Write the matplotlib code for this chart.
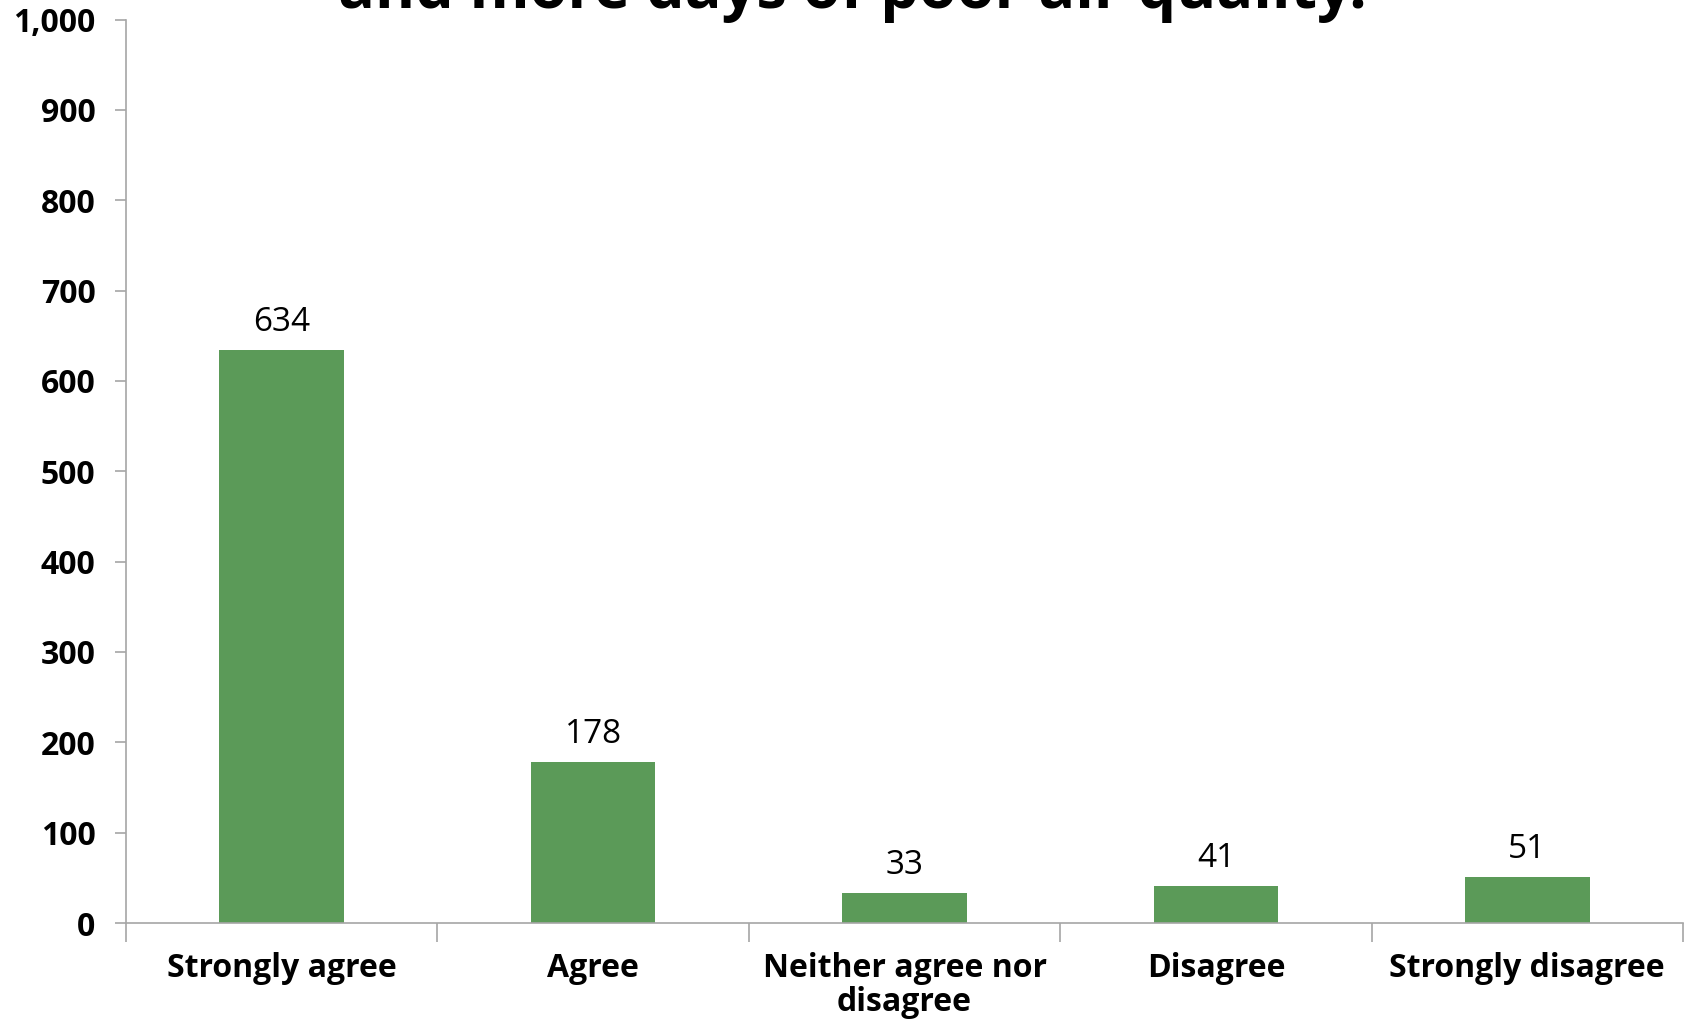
import matplotlib.pyplot as plt


CATEGORIES: list[str] = [
    "Strongly agree",
    "Agree",
    "Neither agree nor\ndisagree",
    "Disagree",
    "Strongly disagree"
]

COUNTS: list[int] = [
    634,
    178,
    33,
    41,
    51
]

TITLE = "and more days of poor air quality."
BAR_COLOR = "#5B9A58"
AXIS_COLOR = "#A6A6A6"


def main() -> None:
    plt.rcParams["font.family"] = ["Open Sans", "DejaVu Sans"]

    fig = plt.figure(figsize=(16.92, 10.19), dpi=100)
    ax = fig.add_axes([126 / 1692, 1 - 923 / 1019, (1683 - 126) / 1692, (923 - 19.5) / 1019])

    x = range(len(CATEGORIES))
    bars = ax.bar(x, COUNTS, width=0.4, color=BAR_COLOR)

    for bar, value in zip(bars, COUNTS):
        ax.annotate(
            str(value),
            (bar.get_x() + bar.get_width() / 2, value),
            xytext=(0, 8),
            textcoords="offset points",
            ha="center",
            va="bottom",
            fontsize=24
        )

    ax.set_xlim(-0.5, len(CATEGORIES) - 0.5)
    ax.set_ylim(0, 1000)
    ax.set_yticks(range(0, 1001, 100))
    ax.set_yticklabels([f"{v:,}" for v in range(0, 1001, 100)],
                       fontsize=23, fontweight="bold")

    ax.set_xticks([i - 0.5 for i in range(len(CATEGORIES) + 1)])
    ax.set_xticklabels([])
    ax.set_xticks(list(x), minor=True)
    ax.set_xticklabels(CATEGORIES, minor=True, fontsize=23,
                       fontweight="bold", linespacing=1.05, va="top")
    ax.tick_params(axis="x", which="minor", length=0, pad=21)
    ax.tick_params(axis="x", which="major", length=14, color=AXIS_COLOR, width=1.2)
    ax.tick_params(axis="y", length=8, color=AXIS_COLOR, width=1.2, pad=14)

    for side in ("top", "right"):
        ax.spines[side].set_visible(False)
    for side in ("left", "bottom"):
        ax.spines[side].set_color(AXIS_COLOR)
        ax.spines[side].set_linewidth(1.2)

    fig.text(852 / 1692, 1 - 8 / 1019, TITLE, ha="center", va="baseline",
             fontsize=44, fontweight="bold")

    fig.savefig("out.png", dpi=100)


if __name__ == "__main__":
    main()
